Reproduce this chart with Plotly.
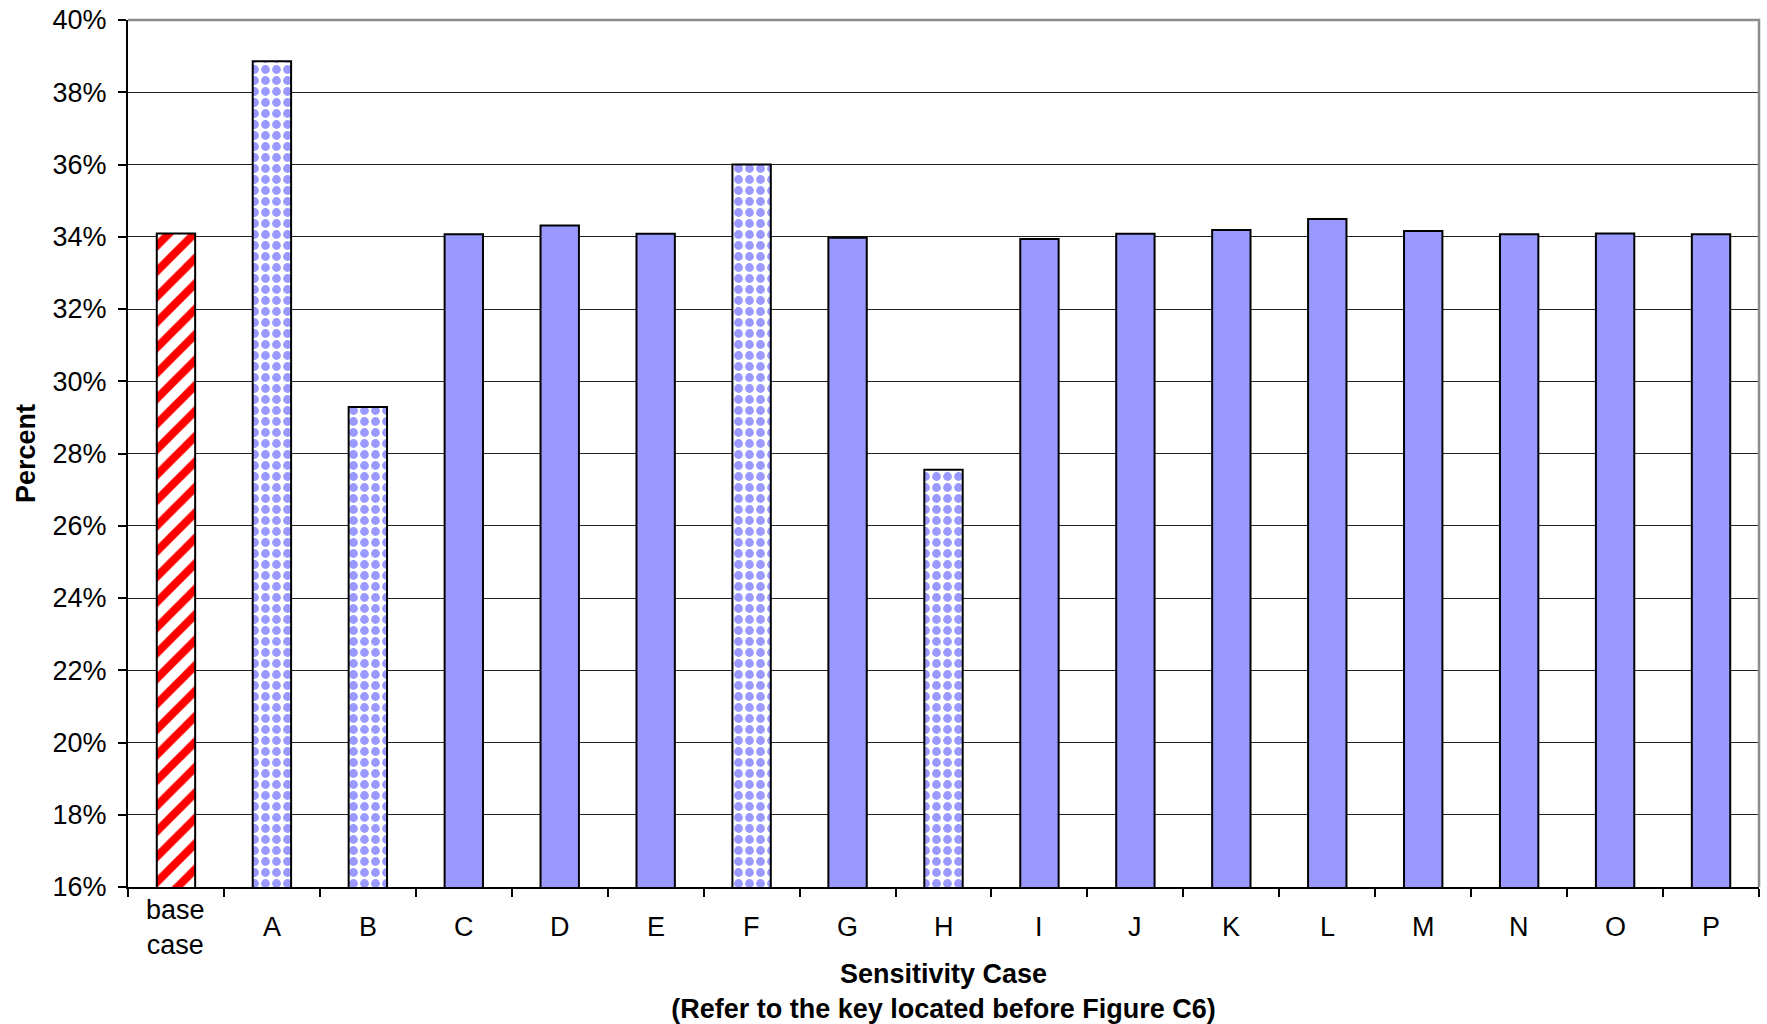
import plotly.graph_objects as go

# ---- data ----
categories = ["base case", "A", "B", "C", "D", "E", "F", "G", "H",
              "I", "J", "K", "L", "M", "N", "O", "P"]
percent_values = [34.09, 38.86, 29.29, 34.07, 34.31, 34.08, 36.00, 33.97, 27.55,
                  33.94, 34.08, 34.19, 34.49, 34.16, 34.07, 34.09, 34.07]
y_tick_values = [16, 18, 20, 22, 24, 26, 28, 30, 32, 34, 36, 38, 40]
y_tick_labels = ["16%", "18%", "20%", "22%", "24%", "26%", "28%", "30%",
                 "32%", "34%", "36%", "38%", "40%"]
x_title = "Sensitivity Case<br>(Refer to the key located before Figure C6)"
y_title = "Percent"

# ---- styling ----
FONT = "Liberation Sans, Arial, sans-serif"
FS = 27
BLUE = "#9999FF"
RED = "#FF0000"
checker_cases = {"A", "B", "F", "H"}
striped_cases = {"base case"}

groups = {"striped": ([], []), "checker": ([], []), "solid": ([], [])}
for c, v in zip(categories, percent_values):
    key = "striped" if c in striped_cases else ("checker" if c in checker_cases else "solid")
    groups[key][0].append(c)
    groups[key][1].append(v)

styles = {
    "striped": dict(color="white",
                    pattern=dict(shape="/", fgcolor=RED, bgcolor="white",
                                 size=18, solidity=0.45, fillmode="replace")),
    "checker": dict(color="white",
                    pattern=dict(shape=".", fgcolor=BLUE, bgcolor="white",
                                 size=11, solidity=0.5, fillmode="replace")),
    "solid": dict(color=BLUE),
}

fig = go.Figure()
for key, (xs, ys) in groups.items():
    fig.add_trace(go.Bar(
        x=xs, y=ys, name=key,
        marker=dict(line=dict(color="black", width=2), **styles[key]),
        showlegend=False,
        hovertemplate="%{x}: %{y:.2f}%<extra></extra>",
    ))

# category labels (vertically centred like the original)
for c in categories:
    fig.add_annotation(x=c, xref="x", y=-40 / 867, yref="paper",
                       text=c.replace(" ", "<br>"), showarrow=False,
                       xanchor="center", yanchor="middle",
                       font=dict(family=FONT, size=FS, color="black"))

# grey top/right frame
fig.add_shape(type="path", xref="paper", yref="paper",
              path="M 0,1 L 1,1 L 1,0", line=dict(color="#8c8c8c", width=2.5),
              layer="above")

fig.update_layout(
    width=1767, height=1024,
    margin=dict(l=128, r=8, t=20, b=137),
    paper_bgcolor="white", plot_bgcolor="white",
    barmode="overlay",
    bargap=0.6,
    font=dict(family=FONT, size=FS, color="black"),
    xaxis=dict(
        type="category",
        categoryorder="array", categoryarray=categories,
        showticklabels=False,
        tickson="boundaries",
        ticks="outside", ticklen=8, tickcolor="black", tickwidth=1.5,
        showline=True, linecolor="black", linewidth=2,
        showgrid=False, zeroline=False,
        title=dict(text=x_title, font=dict(family=FONT, size=FS, color="black",
                                            weight="bold"), standoff=76),
        automargin=False,
    ),
    yaxis=dict(
        range=[16, 40],
        tickvals=y_tick_values, ticktext=y_tick_labels,
        ticks="outside", ticklen=8, tickcolor="black", tickwidth=1.5,
        ticklabelstandoff=6,
        ticklabeloverflow="allow",
        showline=True, linecolor="black", linewidth=2,
        showgrid=True, gridcolor="#222222", gridwidth=1,
        zeroline=False,
        tickfont=dict(family=FONT, size=FS, color="black"),
        title=dict(text=y_title, font=dict(family=FONT, size=FS, color="black",
                                            weight="bold"), standoff=9),
        automargin=False,
    ),
)

fig.write_html("out.html",
               config={"displayModeBar": False},
               post_script="document.body.style.margin='0';"
                           "document.body.style.overflow='hidden';")
